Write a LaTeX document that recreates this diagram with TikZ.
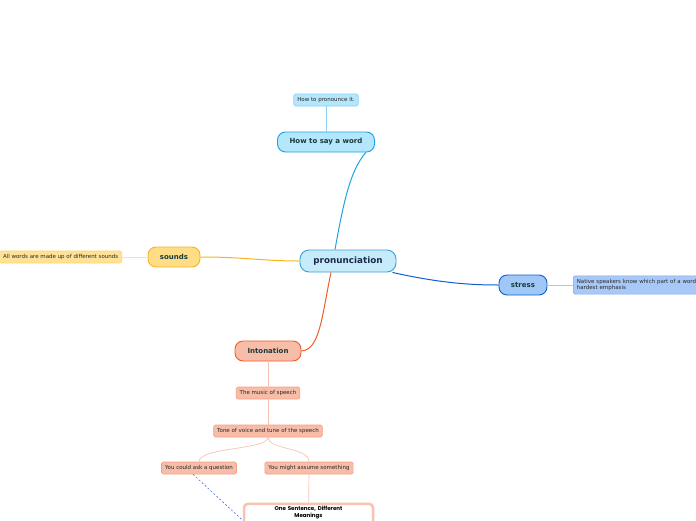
\documentclass[tikz,border=0pt]{standalone}
\usepackage{fontspec}
\setmainfont{DejaVu Sans}
\newfontfamily\boxfont{Poppins}
\usepackage{xcolor}
\usetikzlibrary{arrows.meta,positioning}

\definecolor{rootfill}{HTML}{C6EBFB}
\definecolor{rootline}{HTML}{3D9FDD}
\definecolor{navytext}{HTML}{1B2A4A}
\definecolor{howfill}{HTML}{B4E6FC}
\definecolor{howline}{HTML}{1CA3E4}
\definecolor{howleaf}{HTML}{86D3F4}
\definecolor{soundfill}{HTML}{FFDD87}
\definecolor{soundline}{HTML}{F7B31E}
\definecolor{soundleaf}{HTML}{FFE296}
\definecolor{soundleafline}{HTML}{FFD46E}
\definecolor{stressfill}{HTML}{9FC8F6}
\definecolor{stressline}{HTML}{0F5ED2}
\definecolor{stressleaf}{HTML}{A8C9F8}
\definecolor{stressleafline}{HTML}{7DAAF0}
\definecolor{intofill}{HTML}{F8BDA9}
\definecolor{intoline}{HTML}{F15A29}
\definecolor{intoleaf}{HTML}{F59E82}
\definecolor{intolink}{HTML}{FAC2B0}
\definecolor{linkdash}{HTML}{4D6CF0}
\definecolor{darktext}{HTML}{183A3A}

\begin{document}
\begin{tikzpicture}[
  x=1pt, y=-1pt,
  topic/.style={rectangle, rounded corners=8pt, line width=0.9pt, minimum height=20pt, inner xsep=4pt, font=\fontsize{7}{8}\selectfont\bfseries, text=darktext},
  leaf/.style={rectangle, rounded corners=1.5pt, line width=0.6pt, minimum height=12pt, inner xsep=3.5pt, font=\fontsize{5.5}{6.2}\selectfont, text=black!85},
  branch/.style={line width=1pt},
  twig/.style={line width=0.7pt}
]
  \useasboundingbox (0,0) rectangle (696,520);
  \clip (0,0) rectangle (696,520);

  % central topic
  \node[topic, fill=rootfill, draw=rootline, minimum width=96pt, minimum height=22pt, rounded corners=9pt, font=\fontsize{8.8}{10}\selectfont\bfseries, text=navytext] (pron) at (348,261) {pronunciation};

  % main topics
  \node[topic, fill=howfill, draw=howline, minimum width=97pt] (how) at (326,142) {How to say a word};
  \node[topic, fill=soundfill, draw=soundline, minimum width=52pt] (sounds) at (174,257) {sounds};
  \node[topic, fill=stressfill, draw=stressline, minimum width=48pt] (stress) at (523,285) {stress};
  \node[topic, fill=intofill, draw=intoline, minimum width=66pt] (into) at (268,351) {Intonation};

  % leaves
  \node[leaf, fill=howfill, draw=howleaf] (pronounce) at (326,100) {How to pronounce it.};
  \node[leaf, fill=soundleaf, draw=soundleafline, anchor=east] (words) at (122,257) {All words are made up of different sounds};
  \node[leaf, fill=stressleaf, draw=stressleafline, anchor=west, minimum height=18pt, align=left, text width=150pt] (native) at (573,285) {Native speakers know which part of a word\\hardest emphasis};
  \node[leaf, fill=intofill, draw=intoleaf] (music) at (268,393) {The music of speech};
  \node[leaf, fill=intofill, draw=intoleaf] (tone) at (268,431) {Tone of voice and tune of the speech};
  \node[leaf, fill=intofill, draw=intoleaf] (question) at (199,468) {You could ask a question};
  \node[leaf, fill=intofill, draw=intoleaf] (assume) at (309,468) {You might assume something};

  % floating box
  \node[rectangle, rounded corners=4pt, fill=white, draw=intolink, line width=2.5pt, anchor=north, minimum width=129pt, text width=110pt, align=center, inner ysep=2.5pt, text depth=24pt, font=\boxfont\fontsize{5.5}{6.5}\selectfont\bfseries] (sentence) at (308.5,502.5) {One Sentence, Different\\Meanings};

  % main branches
  \draw[branch, howline] ([xshift=-13pt]pron.north) .. controls (343,205) and (350,170) .. ([xshift=-9pt]how.south east);
  \draw[branch, soundline] (pron.west) .. controls (262,261) and (245,257) .. (sounds.east);
  \draw[branch, stressline] ([xshift=-4pt]pron.south east) .. controls (440,283) and (470,285) .. (stress.west);
  \draw[branch, intoline] ([xshift=-17pt]pron.south) .. controls (322,315) and (320,350) .. (into.east);

  % leaf links
  \draw[twig, howleaf] (how) -- (pronounce);
  \draw[twig, soundleaf] (sounds) -- (words);
  \draw[twig, stressleaf] (stress) -- (native);
  \draw[twig, intolink] (into) -- (music);
  \draw[twig, intolink] (music) -- (tone);
  \draw[twig, intolink] (tone.south) .. controls (268,450) and (199,447) .. (question.north);
  \draw[twig, intolink] (tone.south) .. controls (268,450) and (309,447) .. (assume.north);
  \draw[twig, intolink] (assume) -- (sentence);

  % relation
  \draw[linkdash, line width=0.6pt, dash pattern=on 2pt off 2pt] ([xshift=-6pt]question.south) -- (sentence.west);
\end{tikzpicture}
\end{document}
